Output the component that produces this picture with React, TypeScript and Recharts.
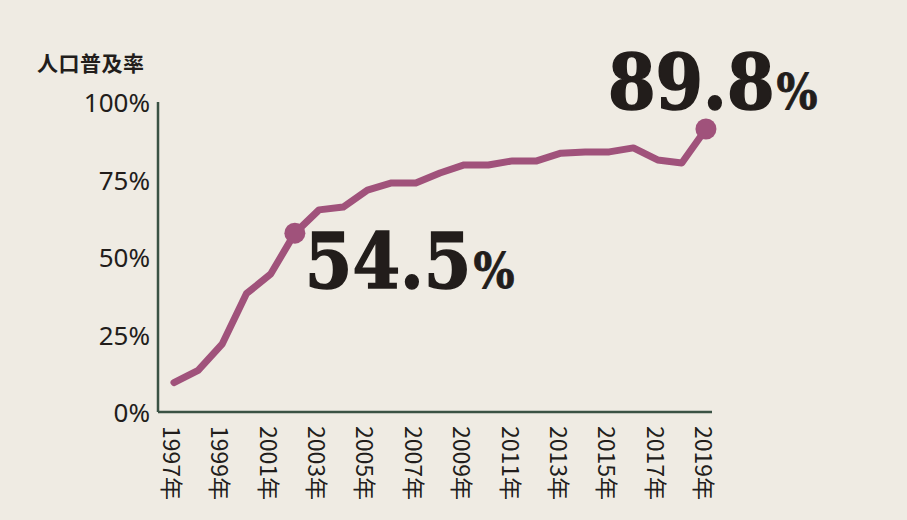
import React from 'react';
import { LineChart, Line, XAxis, YAxis } from 'recharts';

// Internet usage rate
const years = [1997, 1998, 1999, 2000, 2001, 2002, 2003, 2004, 2005, 2006, 2007, 2008,
  2009, 2010, 2011, 2012, 2013, 2014, 2015, 2016, 2017, 2018, 2019];
const rates = [9.5, 13.4, 22, 38.2, 44.5, 57.7, 65.2, 66.1, 71.6, 73.9, 73.9, 77.1,
  79.7, 79.7, 81, 81, 83.5, 83.9, 83.9, 85.2, 81.3, 80.3, 91.3];
const xTicks = [1997, 1999, 2001, 2003, 2005, 2007, 2009, 2011, 2013, 2015, 2017, 2019];
const yTicks = [0, 25, 50, 75, 100];
const highlightYears = [2002, 2019];
const highlightTexts = ['54.5', '89.8'];

const data = years.map((y, i) => ({ year: y, rate: rates[i] }));

const BG = '#efebe3';
const LINE = '#a0527b';
const INK = '#221d1b';
const AXIS = '#3a5244';

const XTick = (props: any) => {
  const { x, y, payload } = props;
  return (
    <text
      transform={`translate(${x - 1},${y + 6}) rotate(90)`}
      textAnchor="start"
      dominantBaseline="central"
      fontSize={23}
      fill={INK}
      fontFamily="'Noto Sans CJK JP', 'Noto Sans', sans-serif"
    >
      {payload.value}年
    </text>
  );
};

const YTick = (props: any) => {
  const { x, y, payload } = props;
  return (
    <text x={x} y={y} textAnchor="end" dominantBaseline="central" fontSize={26} fill={INK}
      fontFamily="'Noto Sans', sans-serif">
      {payload.value}%
    </text>
  );
};

const HighlightDot = (props: any) => {
  const { cx, cy, index, payload } = props;
  if (!highlightYears.includes(payload.year)) return <g key={index} />;
  return <circle key={index} cx={cx} cy={cy} r={10.5} fill={LINE} />;
};

const HighlightLabel = (props: any) => {
  const { x, y, index } = props;
  const k = highlightYears.indexOf(years[index]);
  if (k < 0) return null;
  const tx = k === 0 ? x + 10 : x - 98;
  const ty = k === 0 ? y + 55 : y - 20;
  return (
    <text x={tx} y={ty} fill={INK} stroke={INK} strokeWidth={1.5}
      style={{ fontFamily: "'DejaVu Serif Condensed', 'DejaVu Serif', serif", fontWeight: 'bold' }}>
      <tspan fontSize={76}>{highlightTexts[k]}</tspan>
      <tspan fontSize={48} strokeWidth={0.8} dx={2}>%</tspan>
    </text>
  );
};

export default function App() {
  return (
    <div style={{ position: 'absolute', left: 0, top: 0, width: 907, height: 520, background: BG }}>
      <div style={{
        position: 'absolute', left: 37, top: 47, fontSize: 21, fontWeight: 'bold', color: INK,
        fontFamily: "'Noto Sans CJK JP', sans-serif", letterSpacing: 0.5,
      }}>
        人口普及率
      </div>
      <LineChart width={907} height={520} data={data}
        margin={{ top: 102, right: 195, bottom: 0, left: 88 }}>
        <XAxis
          type="number"
          dataKey="year"
          domain={[1996.34, 2019.25]}
          ticks={xTicks}
          tick={<XTick />}
          tickLine={false}
          axisLine={{ stroke: AXIS, strokeWidth: 2.5 }}
          interval={0}
          height={108}
        />
        <YAxis
          domain={[0, 100]}
          ticks={yTicks}
          tick={<YTick />}
          tickLine={false}
          axisLine={{ stroke: AXIS, strokeWidth: 2.5 }}
          width={70}
        />
        <Line
          type="linear"
          dataKey="rate"
          stroke={LINE}
          strokeWidth={7}
          strokeLinejoin="round"
          strokeLinecap="round"
          dot={HighlightDot}
          activeDot={false}
          label={HighlightLabel}
          isAnimationActive={false}
        />
      </LineChart>
    </div>
  );
}
